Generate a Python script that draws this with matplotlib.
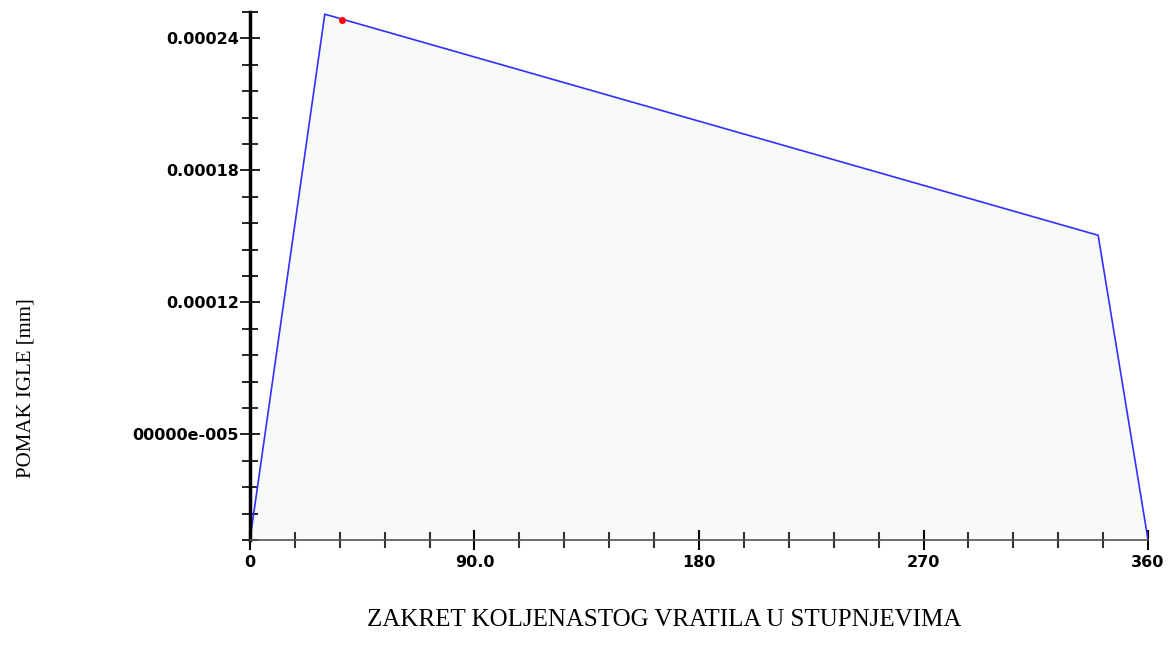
import matplotlib
matplotlib.use("Agg")
import matplotlib.pyplot as plt
from matplotlib.ticker import FixedLocator, MultipleLocator

# data
kut = [0, 30, 340, 360]                       # degrees
pomak = [1.2e-5, 2.51e-4, 1.505e-4, 1.2e-5]   # mm
tocka_x = [37]
tocka_y = [2.485e-4]

y_ticks = [6e-5, 1.2e-4, 1.8e-4, 2.4e-4]
y_labels = ["00000e-005", "0.00012", "0.00018", "0.00024"]
x_ticks = [0, 90, 180, 270, 360]
x_labels = ["0", "90.0", "180", "270", "360"]


def main():
    fig = plt.figure(figsize=(11.74, 6.58), dpi=100)
    ax = fig.add_axes([0.2129, 0.1793, 0.765, 0.8025])

    ymin = 1.2e-5
    ax.fill_between(kut, pomak, ymin, color="#f8faf7", lw=0)
    ax.plot(kut, pomak, color="#3030ff", lw=1.2)
    ax.plot(tocka_x, tocka_y, "o", color="red", ms=4)

    ax.set_xlim(0, 360)
    ax.set_ylim(ymin, 2.52e-4)

    # spines: thick black y axis, thin grey x axis
    for s in ["top", "right"]:
        ax.spines[s].set_visible(False)
    ax.spines["left"].set_linewidth(2.5)
    ax.spines["left"].set_color("black")
    ax.spines["bottom"].set_linewidth(1.2)
    ax.spines["bottom"].set_color("#555555")

    ax.yaxis.set_major_locator(FixedLocator(y_ticks))
    ax.set_yticklabels(y_labels)
    ax.yaxis.set_minor_locator(MultipleLocator(1.2e-5))
    ax.xaxis.set_major_locator(FixedLocator(x_ticks))
    ax.set_xticklabels(x_labels)
    ax.xaxis.set_minor_locator(MultipleLocator(18))

    ax.tick_params(axis="y", which="major", direction="inout", length=14, width=1.2, color="black", pad=1)
    ax.tick_params(axis="y", which="minor", direction="inout", length=12, width=1.2, color="black")
    ax.tick_params(axis="x", which="major", direction="inout", length=15, width=1.5, color="black", pad=3)
    ax.tick_params(axis="x", which="minor", direction="inout", length=11, width=1.5, color="#333333")

    for lab in ax.get_yticklabels() + ax.get_xticklabels():
        lab.set_fontweight("bold")
        lab.set_fontsize(11.5)
        lab.set_fontfamily("DejaVu Sans")

    fig.text(0.5655, 0.057, "ZAKRET KOLJENASTOG VRATILA U STUPNJEVIMA",
             ha="center", va="center", fontsize=18, family="Liberation Serif")
    fig.text(0.022, 0.41, "POMAK IGLE [mm]", ha="center", va="center",
             rotation=90, fontsize=15, family="Liberation Serif")

    fig.savefig("out.png", dpi=100)
    return 0


if __name__ == "__main__":
    main()
